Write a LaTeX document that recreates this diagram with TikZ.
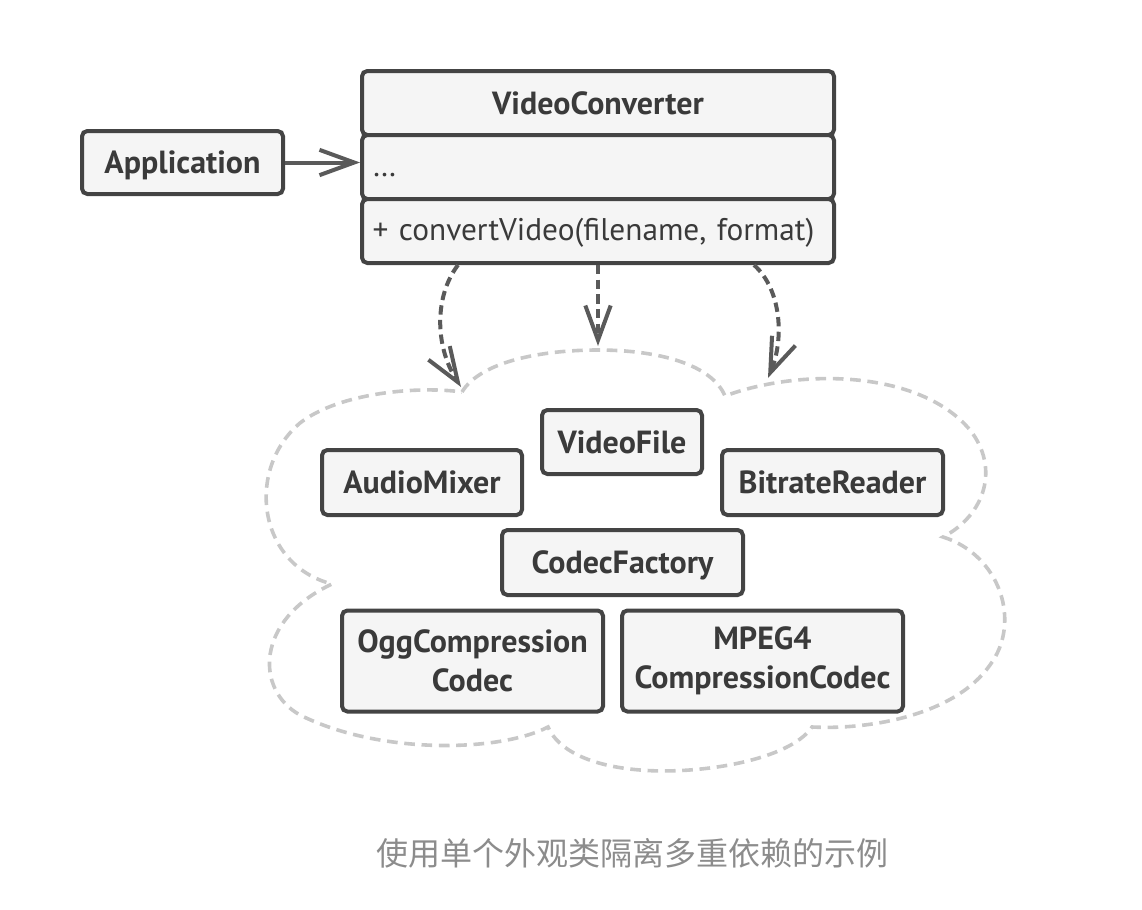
\documentclass[tikz,border=0pt]{standalone}
\usepackage{fontspec}
\setmainfont{PT Sans}
\newfontfamily\cjk{Noto Sans CJK SC}
\usetikzlibrary{arrows.meta}
\definecolor{boxdraw}{HTML}{444444}
\definecolor{boxfill}{HTML}{F5F5F5}
\definecolor{txt}{HTML}{3A3A3A}
\definecolor{arr}{HTML}{5A5A5A}
\definecolor{cloudc}{HTML}{C8C8C8}
\definecolor{capc}{HTML}{8C8C8C}
\tikzset{
  cls/.style={draw=boxdraw, fill=boxfill, line width=3pt, rounded corners=4pt,
    text=txt, inner sep=0pt, align=center,
    font=\bfseries\fontsize{24}{29.5}\selectfont},
  oneline/.style={text height=18pt, text depth=1.2pt},
  member/.style={draw=boxdraw, fill=boxfill, line width=3pt, rounded corners=4pt,
    text=txt, inner xsep=8pt, inner ysep=0pt, align=left,
    font=\fontsize{23.5}{28}\selectfont, text height=16pt, text depth=1.75pt},
  assoc/.style={draw=arr, line width=3pt,
    -{Straight Barb[length=26pt,width=19pt,line width=3pt]}},
  dep/.style={assoc, dash pattern=on 7pt off 4pt},
  cloud/.style={draw=cloudc, line width=2.7pt, dash pattern=on 8pt off 5pt}
}
\begin{document}
\begin{tikzpicture}[x=0.75pt,y=-0.75pt]
\useasboundingbox (0,0) rectangle (1142,910);
% cloud
\draw[cloud] (462,392)
  .. controls (480,362) and (540,350) .. (598,350)
  .. controls (660,350) and (712,365) .. (725,396)
  .. controls (800,368) and (920,370) .. (970,430)
  .. controls (1000,468) and (985,515) .. (943,537)
  .. controls (1000,555) and (1022,622) .. (990,665)
  .. controls (955,715) and (870,730) .. (812,727)
  .. controls (790,760) and (700,775) .. (640,770)
  .. controls (590,766) and (558,750) .. (548,727)
  .. controls (500,752) and (380,755) .. (300,715)
  .. controls (255,690) and (255,620) .. (332,584)
  .. controls (258,565) and (245,470) .. (300,423)
  .. controls (340,392) and (420,386) .. cycle;
% boxes
\node[cls, oneline, minimum width=150.75pt, minimum height=47.25pt] (app) at (182.5,162.5) {Application};
\node[cls, oneline, minimum width=354pt, minimum height=48pt] (vc1) at (598,103) {VideoConverter};
\node[member, minimum height=48pt, text width=338pt] (vc2) at (598,167) {\ldots};
\node[member, minimum height=48pt, text width=338pt] (vc3) at (598,231) {+ convertVideo(filename, format)};
\node[cls, oneline, minimum width=120pt, minimum height=48pt] (vf) at (622,442) {VideoFile};
\node[cls, oneline, minimum width=150pt, minimum height=48.75pt] (am) at (422,482.5) {AudioMixer};
\node[cls, oneline, minimum width=165.75pt, minimum height=48.75pt] (br) at (832.5,482.5) {BitrateReader};
\node[cls, oneline, minimum width=180.75pt, minimum height=48.75pt] (cf) at (622.5,562.5) {CodecFactory};
\node[cls, minimum width=195.75pt, minimum height=75.75pt] (ogg) at (472.5,661) {OggCompression\\Codec};
\node[cls, minimum width=210.75pt, minimum height=75.75pt] (mp) at (762.5,661) {MPEG4\\CompressionCodec};
% arrow ends on the cloud
\coordinate (t1) at (461,387);
\coordinate (t2) at (598,346);
\coordinate (t3) at (768,378);
% connectors
\draw[assoc] (app.east) -- (app.east -| vc2.west);
\draw[dep] ([xshift=-105pt]vc3.south) .. controls (435,295) and (434,345) .. (t1);
\draw[dep] (vc3.south) -- (t2);
\draw[dep] ([xshift=117pt]vc3.south) .. controls (782,290) and (784,340) .. (t3);
% caption
\node[font=\cjk\fontsize{24}{30}\selectfont, text=capc] (cap) at (632,853) {使用单个外观类隔离多重依赖的示例};
\end{tikzpicture}
\end{document}
